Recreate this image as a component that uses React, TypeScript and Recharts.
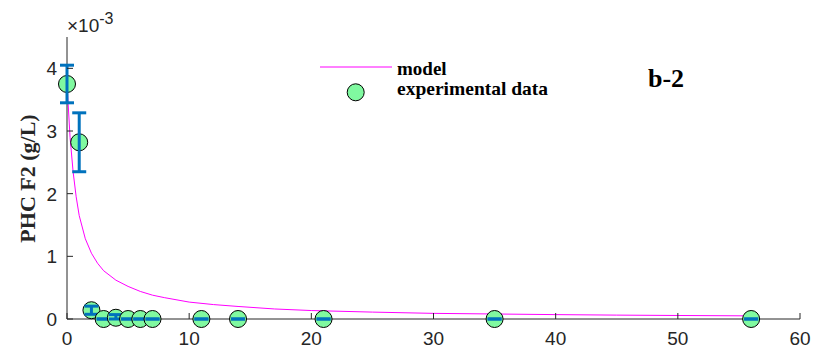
import React from 'react'
import {
  ComposedChart, Line, XAxis, YAxis
} from 'recharts'

// all concentrations in units of 1e-3 g/L
const days = [0, 1, 2, 3, 4, 5, 6, 7, 11, 14, 21, 35, 56]
const phcF2 = [3.75, 2.82, 0.14, 0, 0.02, 0, 0, 0, 0, 0, 0, 0, 0]
const errLow = [0.3, 0.47, 0.065, 0, 0.02, 0, 0, 0, 0, 0, 0, 0, 0]
const errHigh = [0.3, 0.47, 0.065, 0, 0.05, 0, 0, 0, 0, 0, 0, 0, 0]

const modelDays = [0, 0.25, 0.5, 0.75, 1, 1.5, 2, 2.5, 3, 4, 5, 6, 7, 8, 10, 12, 14, 17, 20, 25, 30, 35, 40, 45, 50, 56]
const modelPhc = [3.75, 2.9, 2.35, 1.95, 1.65, 1.28, 1.05, 0.89, 0.77, 0.62, 0.52, 0.44, 0.38, 0.34, 0.27, 0.23, 0.2, 0.16, 0.135, 0.11, 0.09, 0.08, 0.07, 0.062, 0.056, 0.05]

const xTicks = [0, 10, 20, 30, 40, 50, 60]
const yTicks = [0, 1, 2, 3, 4]

const AXIS = '#262626'
const GREEN = '#80F9A0'
const BLUE = '#0072BD'
const MAGENTA = '#FF00FF'
const SANS = '"Liberation Sans", Arial, sans-serif'
const SERIF = '"Liberation Serif", "Times New Roman", serif'

const points = days.map((d, i) => ({ x: d, y: phcF2[i] }))
const model = modelDays.map((d, i) => ({ x: d, y: modelPhc[i] }))
// error bar ends, two entries per point (low, high)
const errEnds = days.flatMap((d, i) => [
  { x: d, y: phcF2[i] - errLow[i] },
  { x: d, y: phcF2[i] + errHigh[i] },
])

// ticks point inward (matlab style), labels outside
function BottomTick({ x, y, payload }: any) {
  return (
    <g>
      <line x1={x} y1={y} x2={x} y2={y - 6} stroke={AXIS} />
      <text x={x} y={y + 26} textAnchor="middle" fill={AXIS} fontSize={19} fontFamily={SANS}>
        {payload.value}
      </text>
    </g>
  )
}
function TopTick({ x, y }: any) {
  return <line x1={x} y1={y} x2={x} y2={y + 6} stroke={AXIS} />
}
function LeftTick({ x, y, payload }: any) {
  return (
    <g>
      <line x1={x} y1={y} x2={x + 6} y2={y} stroke={AXIS} />
      <text x={x - 10} y={y + 7} textAnchor="end" fill={AXIS} fontSize={19} fontFamily={SANS}>
        {payload.value}
      </text>
    </g>
  )
}
function RightTick({ x, y }: any) {
  return <line x1={x} y1={y} x2={x - 6} y2={y} stroke={AXIS} />
}

// the error-end line only records where recharts puts each end;
// the marker dot then draws circle + error bar on top of it
const endY: Record<number, number> = {}
function EndRecorder({ cy, index }: any) {
  if (cy != null && !Number.isNaN(cy)) endY[index] = cy
  return <g />
}

function Marker({ cx, cy, index }: any) {
  if (cx == null || cy == null) return <g />
  const lo = endY[2 * index]
  const hi = endY[2 * index + 1]
  return (
    <g>
      <circle cx={cx} cy={cy} r={8.5} fill={GREEN} stroke="#000" strokeWidth={1} />
      {lo != null && hi != null && (
        <g stroke={BLUE} strokeWidth={3}>
          <line x1={cx} y1={lo} x2={cx} y2={hi} />
          <line x1={cx - 7} y1={lo} x2={cx + 7} y2={lo} />
          <line x1={cx - 7} y1={hi} x2={cx + 7} y2={hi} />
        </g>
      )}
    </g>
  )
}

export default function App() {
  return (
    <div style={{ position: 'absolute', left: 0, top: 0, width: 824, height: 359, background: '#fff' }}>
      <ComposedChart width={824} height={359} margin={{ top: 37, right: 24, bottom: 0, left: 0 }}>
        <XAxis xAxisId="b" dataKey="x" type="number" domain={[0, 60]} ticks={xTicks} height={40}
          tickSize={0} tickMargin={0} tickLine={false} tick={<BottomTick />}
          axisLine={{ stroke: AXIS }} />
        <XAxis xAxisId="t" orientation="top" dataKey="x" type="number" domain={[0, 60]} ticks={xTicks} height={0}
          tickSize={0} tickMargin={0} tickLine={false} tick={<TopTick />}
          axisLine={{ stroke: AXIS }} />
        <YAxis yAxisId="l" type="number" domain={[0, 4.5]} ticks={yTicks} width={67}
          tickSize={0} tickMargin={0} tickLine={false} tick={<LeftTick />}
          axisLine={{ stroke: AXIS }} />
        <YAxis yAxisId="r" orientation="right" type="number" domain={[0, 4.5]} ticks={yTicks} width={0}
          tickSize={0} tickMargin={0} tickLine={false} tick={<RightTick />}
          axisLine={{ stroke: AXIS }} />
        <Line xAxisId="b" yAxisId="l" data={errEnds} dataKey="y" type="linear" stroke="none"
          dot={<EndRecorder />} activeDot={false} isAnimationActive={false} />
        <Line xAxisId="b" yAxisId="l" data={model} dataKey="y" type="linear" stroke={MAGENTA}
          strokeWidth={1} dot={false} activeDot={false} isAnimationActive={false} />
        <Line xAxisId="b" yAxisId="l" data={points} dataKey="y" type="linear" stroke="none"
          dot={<Marker />} activeDot={false} isAnimationActive={false} />
      </ComposedChart>
      <svg width={824} height={359} style={{ position: 'absolute', left: 0, top: 0, pointerEvents: 'none' }}>
        <text x={67} y={32} fontSize={19} fontFamily={SANS} fill={AXIS}>
          ×10<tspan dy={-8} fontSize={16}>-3</tspan>
        </text>
        <text transform="translate(35,178.5) rotate(-90)" textAnchor="middle" fontSize={22}
          fontWeight="bold" fontFamily={SERIF} fill={AXIS}>PHC F2 (g/L)</text>
        <text x={648} y={87} fontSize={26} fontWeight="bold" fontFamily={SERIF} fill="#000">b-2</text>
        {/* legend */}
        <line x1={320} y1={67} x2={392} y2={67} stroke={MAGENTA} strokeWidth={1} />
        <text x={397} y={75} fontSize={19} fontWeight="bold" fontFamily={SERIF} fill="#000">model</text>
        <circle cx={355.7} cy={92.3} r={8.5} fill={GREEN} stroke="#000" />
        <text x={397} y={94.5} fontSize={19.5} fontWeight="bold" fontFamily={SERIF} fill="#000">experimental data</text>
      </svg>
    </div>
  )
}
